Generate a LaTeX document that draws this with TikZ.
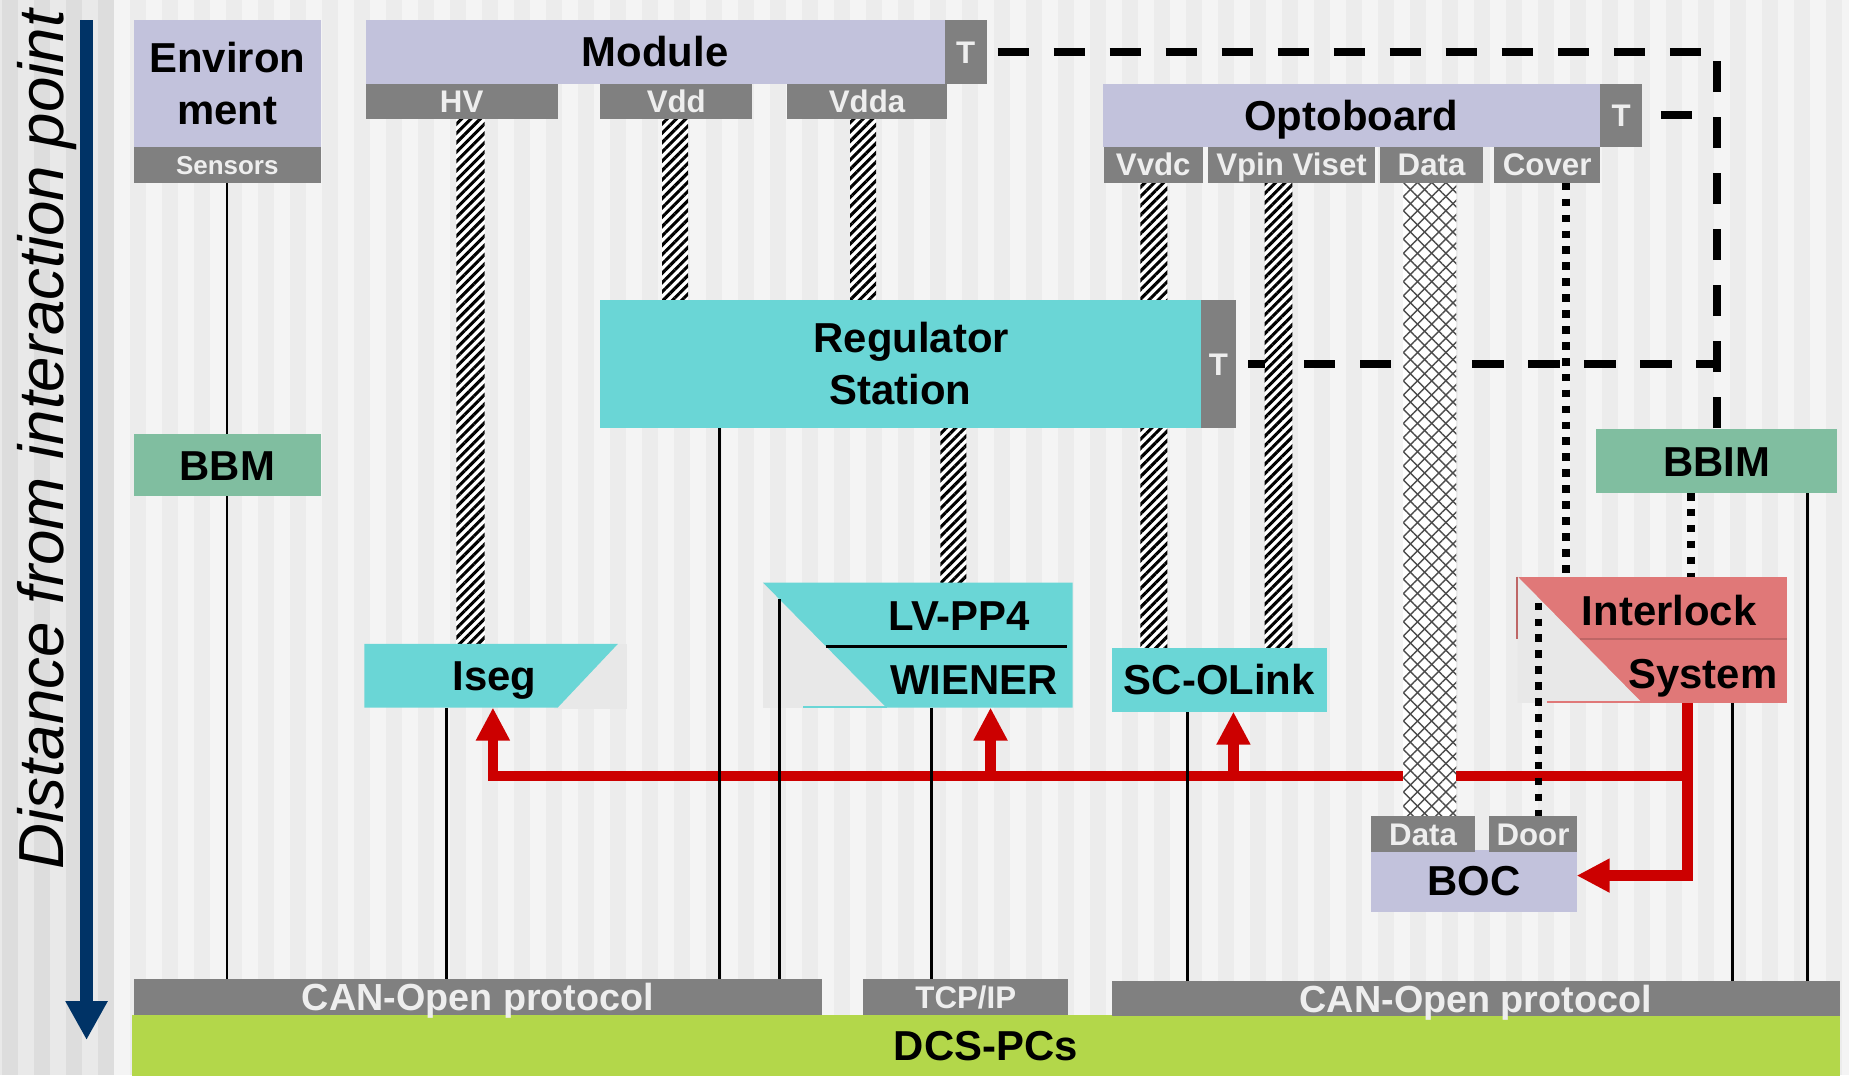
\documentclass[tikz,border=0pt]{standalone}
\usepackage{fontspec}
\setmainfont{Liberation Sans}
\usetikzlibrary{arrows.meta,patterns.meta}

\definecolor{lav}{RGB}{194,194,220}
\definecolor{barg}{RGB}{128,128,128}
\definecolor{bartxt}{RGB}{238,238,238}
\definecolor{cyanb}{RGB}{106,214,214}
\definecolor{greenb}{RGB}{128,190,160}
\definecolor{redb}{RGB}{224,120,120}
\definecolor{redline}{RGB}{204,0,0}
\definecolor{dcsg}{RGB}{179,215,74}
\definecolor{navy}{RGB}{0,51,102}
\definecolor{lgray}{RGB}{232,232,232}
\definecolor{bgA}{RGB}{244,244,244}
\definecolor{bgB}{RGB}{236,236,236}
\definecolor{lsA}{RGB}{233,233,233}
\definecolor{lsB}{RGB}{221,221,221}

\newcommand\fbig{\fontsize{35.5}{44}\selectfont\bfseries}
\newcommand\flab{\fontsize{26.5}{30}\selectfont\bfseries}
\newcommand\fsens{\fontsize{22}{26}\selectfont\bfseries}
\newcommand\fcan{\fontsize{32}{34}\selectfont\bfseries}
\newcommand\faxis{\fontsize{54}{60}\selectfont\itshape}

\pgfdeclarelayer{back}
\pgfdeclarelayer{wires}
\pgfdeclarelayer{front}
\pgfsetlayers{back,wires,main,front}

\tikzset{
  blk/.style={anchor=north west, inner sep=0pt, outer sep=0pt, align=center, font=\fbig, text=black},
  oneline/.style={text height=25.5pt, text depth=0pt},
  lavbox/.style={blk, fill=lav},
  cyanbox/.style={blk, fill=cyanb},
  greenbox/.style={blk, fill=greenb},
  barbox/.style={blk, fill=barg, text=bartxt, font=\flab, text height=19pt, text depth=0pt},
  zone/.style={anchor=north west, inner sep=0pt, outer sep=0pt},
  lbl/.style={inner sep=0pt, font=\fbig, text height=25.5pt, text depth=0pt},
  hatch/.style={fill=white, postaction={pattern color=black, pattern={Lines[angle=45,distance=5.6pt,line width=2.6pt]}}},
  xhatch/.style={fill=white,
     postaction={pattern color=black!70, pattern={Lines[angle=45,distance=8.5pt,line width=1.2pt]}},
     postaction={pattern color=black!70, pattern={Lines[angle=-45,distance=8.5pt,line width=1.2pt]}}},
  wire/.style={line width=2.5pt, black},
  dotline/.style={line width=6pt, black, dash pattern=on 6.5pt off 7pt},
  tdash/.style={line width=7pt, black, dash pattern=on 26.5pt off 21pt},
  redarr/.style={line width=9pt, redline, -{Triangle[width=27pt,length=28pt]}},
}

\begin{document}
\begin{tikzpicture}[x=1pt,y=-1pt]
\useasboundingbox (0,0) rectangle (1568,912);

% ---------- background ----------
\begin{pgfonlayer}{back}
\begin{scope}
\clip (0,0) rectangle (1568,912);
\fill[bgA] (96.7,0) rectangle (1568,912);
\foreach \i in {0,...,54} \fill[bgB] ({96.7+27.14*\i+13.57},0) rectangle ++(13.57,912);
\fill[lsA] (0,0) rectangle (96.7,912);
\foreach \i in {0,...,3} \fill[lsB] ({1.7+27.14*\i},0) rectangle ++(13.57,912);
\end{scope}
\coordinate (axtop) at (73.4,17);
\coordinate (axbot) at (73.4,882);
\draw[navy, line width=11.4pt, -{Triangle[width=33.5pt,length=33pt]}] (axtop) -- (axbot);
\node[rotate=90, anchor=base, font=\faxis, inner sep=0pt] (axis) at (54,373) {Distance from interaction point};
\end{pgfonlayer}

% ---------- boxes ----------
\node[lavbox, minimum width=158.5pt, minimum height=107.5pt] (env) at (113.5,17) {Environ\\ment};
\node[barbox, font=\fsens, text height=16pt, minimum width=158.5pt, minimum height=30.5pt] (sens) at (113.5,124.5) {Sensors};

\node[lavbox, oneline, minimum width=491pt, minimum height=54pt] (mod) at (310,17) {Module};
\node[barbox, minimum width=36pt, minimum height=54pt] (modT) at (801,17) {T};
\node[barbox, minimum width=163pt, minimum height=30pt] (hv) at (310,71) {HV};
\node[barbox, minimum width=129pt, minimum height=30pt] (vdd) at (509,71) {Vdd};
\node[barbox, minimum width=135.5pt, minimum height=30pt] (vdda) at (667.5,71) {Vdda};

\node[lavbox, oneline, minimum width=422pt, minimum height=53.5pt] (opt) at (935,71) {Optoboard};
\node[barbox, minimum width=35.5pt, minimum height=53.5pt] (optT) at (1357,71) {T};
\node[barbox, minimum width=84pt, minimum height=30.5pt] (vvdc) at (936,124.5) {Vvdc};
\node[barbox, minimum width=141.5pt, minimum height=30.5pt] (vpin) at (1024.5,124.5) {Vpin Viset};
\node[barbox, minimum width=88pt, minimum height=30.5pt] (data) at (1170,124.5) {Data};
\node[barbox, minimum width=90pt, minimum height=30.5pt] (cover) at (1267,124.5) {Cover};

\node[cyanbox, minimum width=509.5pt, minimum height=108.2pt] (reg) at (509,254.5) {\hspace*{18pt}Regulator\\Station};
\node[barbox, minimum width=29.5pt, minimum height=108.2pt] (regT) at (1018.5,254.5) {T};

\node[greenbox, oneline, minimum width=158.5pt, minimum height=53pt] (bbm) at (113.5,368) {BBM};
\node[greenbox, oneline, minimum width=204.5pt, minimum height=54pt] (bbim) at (1353.5,364) {BBIM};

% Iseg
\fill[lgray] (470,546) rectangle (532,601);
\fill[cyanb] (309,546) -- (524,546) -- (473,600) -- (309,600) -- cycle;
\node[zone, minimum width=215pt, minimum height=54pt] (iseg) at (309,546) {};
\node[lbl] (isegt) at (419.5,573) {Iseg};

% LV-PP4 / WIENER
\fill[lgray] (647,494) rectangle (752,600);
\fill[cyanb] (647,494) -- (909.5,494) -- (909.5,600) -- (751.6,600) -- cycle;
\draw[cyanb, line width=1.5pt] (681,599.3) -- (752,599.3);
\draw[line width=2.2pt] (700.5,548.4) -- (905,548.4);
\node[zone, minimum width=262.5pt, minimum height=106pt] (lv) at (647,494) {};
\node[lbl] (lvt) at (813.5,522) {LV-PP4};
\node[lbl] (wt) at (826,576) {WIENER};

% SC-OLink
\node[cyanbox, oneline, minimum width=182pt, minimum height=53.8pt] (sco) at (943,549.7) {SC-OLink};

% Interlock System
\fill[redb] (1286,489) rectangle (1515,542);
\fill[redb] (1312,542) rectangle (1515,596);
\fill[lgray] (1287,489) -- (1392.5,596) -- (1287,596) -- cycle;
\draw[redb!85!black, line width=1.2pt] (1286.6,489) -- (1286.6,542);
\draw[redb!85!black, line width=1.2pt] (1339.5,542) -- (1515,542);
\draw[redb, line width=1.5pt] (1312,595.3) -- (1392.5,595.3);
\node[zone, minimum width=229pt, minimum height=107pt] (intl) at (1286,489) {};
\node[lbl] (intt) at (1415.5,517.5) {Interlock};
\node[lbl] (syst) at (1444,571) {System};

% BOC
\node[lavbox, oneline, minimum width=174.4pt, minimum height=52pt] (boc) at (1162.6,721) {BOC};
\node[barbox, minimum width=88.4pt, minimum height=30.3pt] (bdata) at (1162.6,692) {Data};
\node[barbox, minimum width=74pt, minimum height=30.3pt] (door) at (1263,692) {Door};

% bottom
\node[blk, oneline, fill=dcsg, minimum width=1448pt, minimum height=52pt] (dcs) at (112,860.5) {DCS-PCs};
\node[barbox, font=\fcan, text height=23pt, minimum width=583.5pt, minimum height=30pt] (can1) at (113.5,830.5) {CAN-Open protocol};
\node[barbox, minimum width=174pt, minimum height=30pt] (tcp) at (732,830.5) {TCP/IP};
\node[barbox, font=\fcan, text height=23pt, minimum width=617pt, minimum height=30pt] (can2) at (943,832) {CAN-Open protocol};

% ---------- connectors under boxes ----------
\begin{pgfonlayer}{wires}
% temperature dashed lines
\draw[tdash, dash phase=38.5pt] (modT.east) -| (bbim.north);
\draw[tdash, dash phase=31.5pt] (optT.east) -- (bbim.north |- optT.east);
\draw[tdash, dash phase=37pt] (regT.east) -- (bbim.north |- regT.east);
% interlock signals
\coordinate (busR) at (1431,658);
\coordinate (busL) at (418,658);
\draw[redarr] (busR) -- (busL) -- (418,0 |- iseg.south);
\draw[redarr] (840,658) -- (840,0 |- lv.south);
\draw[redarr] (1046,658) -- (1046,0 |- sco.south);
\draw[redarr] (1431,0 |- intl.south) |- ([yshift=4.5pt]boc.east);
% thin bus wires
\draw[wire] (192.5,0 |- sens.south) -- (192.5,0 |- can1.north);
\draw[wire] (379,0 |- iseg.south) -- (379,0 |- can1.north);
\draw[wire] (610,0 |- reg.south) -- (610,0 |- can1.north);
\draw[wire] (790,0 |- lv.south) -- (790,0 |- tcp.north);
\draw[wire] (1007,0 |- sco.south) -- (1007,0 |- can2.north);
\draw[wire] (1469,0 |- intl.south) -- (1469,0 |- can2.north);
\draw[wire] (1533,0 |- bbim.south) -- (1533,0 |- can2.north);
% power cables
\path[hatch] (387,0 |- hv.south) rectangle (411,0 |- iseg.north);
\path[hatch] (561.5,0 |- vdd.south) rectangle (583.5,0 |- reg.north);
\path[hatch] (721,0 |- vdda.south) rectangle (743,0 |- reg.north);
\path[hatch] (797.5,0 |- reg.south) rectangle (819.5,0 |- lv.north);
\path[hatch] (967,0 |- vvdc.south) rectangle (990,0 |- sco.north);
\path[hatch] (1072.5,0 |- vpin.south) rectangle (1096,0 |- sco.north);
% data fibre
\path[xhatch] (1190,0 |- data.south) rectangle (1235,0 |- bdata.north);
% dotted
\draw[dotline] (1328,0 |- cover.south) -- (1328,0 |- intl.north);
\draw[dotline] (1434,0 |- bbim.south) -- (1434,0 |- intl.north);
\end{pgfonlayer}

% ---------- connectors over shapes ----------
\begin{pgfonlayer}{front}
\coordinate (lvin) at (661,508);
\draw[wire] (lvin) -- (661,0 |- can1.north);
\coordinate (doorin) at (1305,511);
\draw[dotline] (doorin) -- (1305,0 |- door.north);
\end{pgfonlayer}
\end{tikzpicture}
\end{document}
